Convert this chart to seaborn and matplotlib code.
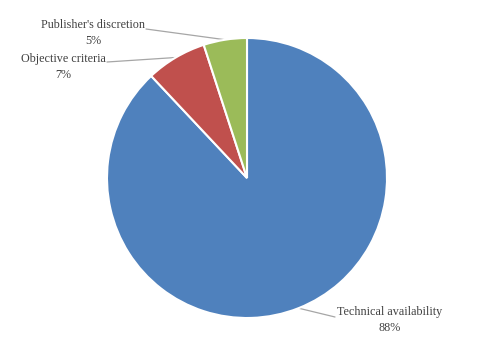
import numpy as np
import matplotlib
matplotlib.use("Agg")
import matplotlib.pyplot as plt
import seaborn as sns

categories = ["Technical availability", "Objective criteria", "Publisher's discretion"]
values = [88, 7, 5]
pct_labels = ["88%", "7%", "5%"]
colors = ["#4F81BD", "#C0504D", "#9BBB59"]

sns.set_theme(style="white")
plt.rcParams['font.family'] = ['Liberation Serif', 'DejaVu Serif']

W, H = 480, 353
fig = plt.figure(figsize=(W / 100, H / 100), dpi=100)
ax = fig.add_axes([0, 0, 1, 1])

cx, cy, R = 247, H - 178, 140
wedges, _ = ax.pie(values, colors=colors, startangle=90, counterclock=False,
                   center=(cx, cy), radius=R,
                   wedgeprops=dict(edgecolor="white", linewidth=1.5))
ax.set_xlim(0, W)
ax.set_ylim(0, H)
ax.set_aspect("equal")
ax.axis("off")

# label block centers (pixel coords, y from top) and leader line end points
label_pos = [(390, 320), (63, 67), (93, 33)]
line_end = [(335, 317), (107, 62), (146, 29)]

for w, cat, pct, (lx, ly), (ex, ey) in zip(wedges, categories, pct_labels, label_pos, line_end):
    ang = np.deg2rad((w.theta1 + w.theta2) / 2)
    px, py = cx + R * np.cos(ang), cy + R * np.sin(ang)
    ax.plot([px, ex], [py, H - ey], color="#A6A6A6", lw=0.9, zorder=0)
    ax.text(lx, H - ly, f"{cat}\n{pct}", ha="center", va="center",
            multialignment="center", fontsize=8.7, color="#404040",
            linespacing=1.35)

fig.savefig("out.png", dpi=100)
